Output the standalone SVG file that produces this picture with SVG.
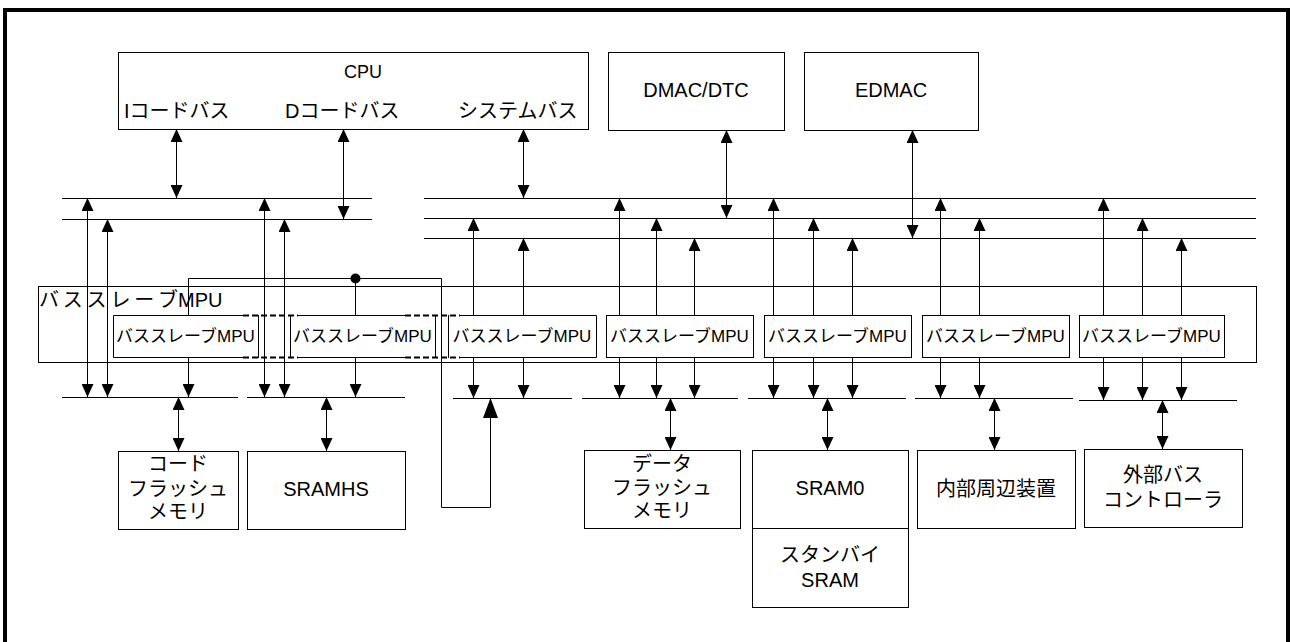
<svg xmlns="http://www.w3.org/2000/svg" width="1290" height="642" viewBox="0 0 1290 642">
<style>
text{font-family:"Liberation Sans","Noto Sans CJK JP",sans-serif;fill:#000}
.t20{font-size:20px}
.t17{font-size:17px}
.t18{font-size:18px}
.m{text-anchor:middle}
.box{fill:none;stroke:#000;stroke-width:1}
.ln{fill:none;stroke:#000;stroke-width:1}
.bus{fill:none;stroke:#000;stroke-width:1}
.dash{fill:none;stroke:#000;stroke-width:2;stroke-dasharray:6,3}
.a2{marker-start:url(#ah);marker-end:url(#ah)}
.a1{marker-end:url(#ah)}
</style>
<defs>
<marker id="ah" markerUnits="userSpaceOnUse" markerWidth="13" markerHeight="12" refX="13" refY="6" orient="auto-start-reverse" viewBox="0 0 13 12">
<path d="M0,0 L13,6 L0,12 z" fill="#000"/>
</marker>
<marker id="big" markerUnits="userSpaceOnUse" markerWidth="20" markerHeight="16" refX="20" refY="8" orient="auto" viewBox="0 0 20 16">
<path d="M0,0.5 L20,8 L0,15.5 z" fill="#000"/>
</marker>
</defs>
<rect width="1290" height="642" fill="#fff"/>
<rect x="5" y="10" width="1283" height="700" fill="none" stroke="#000" stroke-width="4"/>

<g id="cpu">
<rect class="box" x="118.5" y="52.5" width="470" height="77"/>
<text class="t18 m" x="363" y="78">CPU</text>
<text class="t20" x="124" y="118">Iコードバス</text>
<text class="t20" x="285" y="118">Dコードバス</text>
<text class="t20" x="458" y="118">システムバス</text>
</g>
<g id="dmac">
<rect class="box" x="608.5" y="52.5" width="176" height="78"/>
<text class="t20 m" x="696" y="97">DMAC/DTC</text>
</g>
<g id="edmac">
<rect class="box" x="804.5" y="52.5" width="174" height="78"/>
<text class="t20 m" x="891" y="97">EDMAC</text>
</g>

<g id="mpu-container">
<rect class="box" x="38.5" y="286.5" width="1218" height="76"/>
<text class="t20" x="39" y="307"><tspan letter-spacing="3.8">バススレー</tspan>ブMPU</text>
</g>
<g id="mpu1">
<path class="box" d="M243,315.5 H113.5 V357.5 H243 M258.5,315 V358"/>
<text class="t17 m" x="185.5" y="342">バススレーブMPU</text>
</g>
<g id="mpu2">
<path class="box" d="M298,315.5 H405 M298,357.5 H405 M290.5,315 V358 M435.5,315 V358"/>
<text class="t17 m" x="362.5" y="342">バススレーブMPU</text>
</g>
<g id="mpu3">
<path class="box" d="M460,315.5 H596.5 V357.5 H460 M448.5,315 V358"/>
<text class="t17 m" x="522" y="342">バススレーブMPU</text>
</g>
<g id="mpu-dash">
<path class="dash" d="M243,315.5 H298 M243,357.5 H298 M405,315.5 H460 M405,357.5 H460"/>
</g>
<g id="mpu4">
<rect class="box" x="606.5" y="315.5" width="147" height="42"/>
<text class="t17 m" x="679.5" y="342">バススレーブMPU</text>
</g>
<g id="mpu5">
<rect class="box" x="764.5" y="315.5" width="147" height="42"/>
<text class="t17 m" x="837.5" y="342">バススレーブMPU</text>
</g>
<g id="mpu6">
<rect class="box" x="922.5" y="315.5" width="147" height="42"/>
<text class="t17 m" x="995.5" y="342">バススレーブMPU</text>
</g>
<g id="mpu7">
<rect class="box" x="1079.5" y="315.5" width="145" height="42"/>
<text class="t17 m" x="1151.5" y="342">バススレーブMPU</text>
</g>

<g id="codeflash">
<rect class="box" x="118.5" y="451.5" width="120" height="78"/>
<text class="t20 m" x="178" y="471">コード</text>
<text class="t20 m" x="178" y="496">フラッシュ</text>
<text class="t20 m" x="178" y="519">メモリ</text>
</g>
<g id="sramhs">
<rect class="box" x="247.5" y="451.5" width="158" height="78"/>
<text class="t20 m" x="326" y="496">SRAMHS</text>
</g>
<g id="dataflash">
<rect class="box" x="584.5" y="450.5" width="156" height="78"/>
<text class="t20 m" x="662" y="471">データ</text>
<text class="t20 m" x="662" y="495">フラッシュ</text>
<text class="t20 m" x="662" y="518">メモリ</text>
</g>
<g id="sram0">
<rect class="box" x="752.5" y="450.5" width="156" height="78"/>
<text class="t20 m" x="830" y="495">SRAM0</text>
</g>
<g id="standby">
<rect class="box" x="752.5" y="528.5" width="156" height="79"/>
<text class="t20 m" x="830" y="562">スタンバイ</text>
<text class="t20 m" x="830" y="587">SRAM</text>
</g>
<g id="periph">
<rect class="box" x="917.5" y="450.5" width="158" height="78"/>
<text class="t20 m" x="996" y="496">内部周辺装置</text>
</g>
<g id="extbus">
<rect class="box" x="1084.5" y="449.5" width="158" height="78"/>
<text class="t20 m" x="1163" y="482">外部バス</text>
<text class="t20 m" x="1163" y="507">コントローラ</text>
</g>

<g id="connectors">
<path class="bus" d="M62,198.5 H372 M62,219.5 H372 M424,198.5 H1256 M424,218.5 H1256 M424,238.5 H1256"/>
<path class="bus" d="M62,397.5 H238 M247,397.5 H405 M453,398.5 H572 M582,398.5 H738 M748,398.5 H906 M915,398.5 H1073 M1079,400.5 H1237"/>
<line class="ln a2" x1="176.5" y1="129" x2="176.5" y2="198"/>
<line class="ln a2" x1="343.5" y1="129" x2="343.5" y2="219"/>
<line class="ln a2" x1="523.5" y1="129" x2="523.5" y2="198"/>
<line class="ln a2" x1="726.5" y1="130" x2="726.5" y2="218"/>
<line class="ln a2" x1="912.5" y1="130" x2="912.5" y2="238"/>
<line class="ln a2" x1="87.5" y1="198" x2="87.5" y2="397"/>
<line class="ln a2" x1="107.5" y1="219" x2="107.5" y2="397"/>
<line class="ln a2" x1="264.5" y1="198" x2="264.5" y2="397"/>
<line class="ln a2" x1="284.5" y1="219" x2="284.5" y2="397"/>
<line class="ln a1" x1="188.5" y1="357" x2="188.5" y2="397"/>
<line class="ln a1" x1="355.5" y1="357" x2="355.5" y2="397"/>
<path class="ln" d="M188.5,315 V278.5 H441.5 V507.5 H490.5 V398" marker-end="url(#big)"/>
<line class="ln" x1="355.5" y1="278" x2="355.5" y2="315"/>
<circle cx="355.5" cy="278.5" r="5" fill="#000"/>
<line class="ln a1" x1="473.5" y1="315" x2="473.5" y2="218"/>
<line class="ln a1" x1="523.5" y1="315" x2="523.5" y2="238"/>
<line class="ln a1" x1="619.5" y1="315" x2="619.5" y2="198"/>
<line class="ln a1" x1="656.5" y1="315" x2="656.5" y2="218"/>
<line class="ln a1" x1="694.5" y1="315" x2="694.5" y2="238"/>
<line class="ln a1" x1="773.5" y1="315" x2="773.5" y2="198"/>
<line class="ln a1" x1="813.5" y1="315" x2="813.5" y2="218"/>
<line class="ln a1" x1="852.5" y1="315" x2="852.5" y2="238"/>
<line class="ln a1" x1="940.5" y1="315" x2="940.5" y2="198"/>
<line class="ln a1" x1="979.5" y1="315" x2="979.5" y2="218"/>
<line class="ln a1" x1="1103.5" y1="315" x2="1103.5" y2="198"/>
<line class="ln a1" x1="1142.5" y1="315" x2="1142.5" y2="218"/>
<line class="ln a1" x1="1181.5" y1="315" x2="1181.5" y2="238"/>
<line class="ln a1" x1="473.5" y1="357" x2="473.5" y2="398"/>
<line class="ln a1" x1="523.5" y1="357" x2="523.5" y2="398"/>
<line class="ln a1" x1="619.5" y1="357" x2="619.5" y2="398"/>
<line class="ln a1" x1="656.5" y1="357" x2="656.5" y2="398"/>
<line class="ln a1" x1="694.5" y1="357" x2="694.5" y2="398"/>
<line class="ln a1" x1="773.5" y1="357" x2="773.5" y2="398"/>
<line class="ln a1" x1="813.5" y1="357" x2="813.5" y2="398"/>
<line class="ln a1" x1="852.5" y1="357" x2="852.5" y2="398"/>
<line class="ln a1" x1="940.5" y1="357" x2="940.5" y2="398"/>
<line class="ln a1" x1="979.5" y1="357" x2="979.5" y2="398"/>
<line class="ln a1" x1="1103.5" y1="357" x2="1103.5" y2="400"/>
<line class="ln a1" x1="1142.5" y1="357" x2="1142.5" y2="400"/>
<line class="ln a1" x1="1181.5" y1="357" x2="1181.5" y2="400"/>
<line class="ln a2" x1="178.5" y1="397" x2="178.5" y2="451"/>
<line class="ln a2" x1="326.5" y1="397" x2="326.5" y2="451"/>
<line class="ln a2" x1="670.5" y1="398" x2="670.5" y2="450"/>
<line class="ln a2" x1="827.5" y1="398" x2="827.5" y2="450"/>
<line class="ln a2" x1="994.5" y1="398" x2="994.5" y2="450"/>
<line class="ln a2" x1="1162.5" y1="400" x2="1162.5" y2="449"/>
</g>
</svg>
